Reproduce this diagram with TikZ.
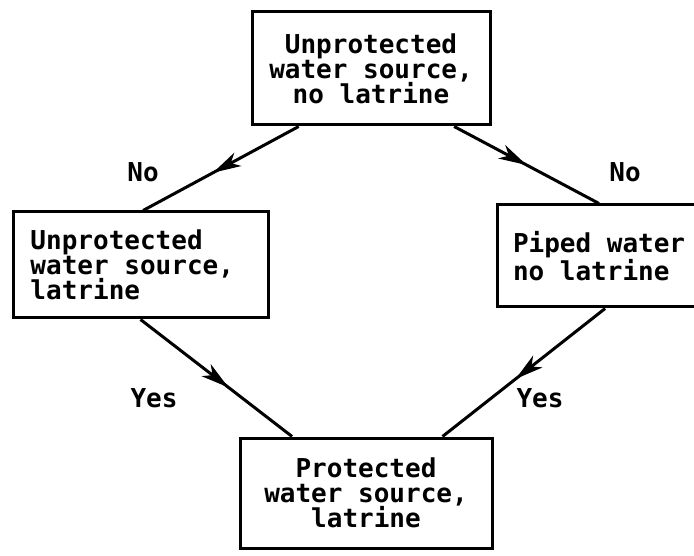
\documentclass[tikz,border=0pt]{standalone}
\usepackage{fontspec}
\newfontfamily\plotter{DejaVu Sans Mono}[WordSpace={1,0,0},BoldFont={DejaVu Sans Mono Bold}]
\usetikzlibrary{arrows.meta,decorations.markings,calc}
\begin{document}
\begin{tikzpicture}[x=1pt,y=-1pt,
  every node/.style={font=\plotter\bfseries\fontsize{26}{25}\selectfont,
    execute at begin node={\spaceskip=0.602em\relax\xspaceskip=0.602em\relax}},
  box/.style={draw,line width=3pt,inner sep=0pt},
  flow/.style={line width=3pt,postaction={decorate},
    decoration={markings,mark=at position #1 with {\arrow{Stealth[length=28pt,width=15pt,inset=8pt]}}}},
  lbl/.style={inner sep=0pt}]
\useasboundingbox (0,0) rectangle (694,556);
% the four states
\node[box,minimum width=238pt,minimum height=113pt,align=center] (top) at (371,68.5)
  {Unprotected\\water source,\\no latrine};
\node[box,minimum width=255pt,minimum height=106pt,text width=220pt,align=left] (left) at (140.5,265)
  {Unprotected\\water source,\\latrine};
\node[box,minimum width=200pt,minimum height=102pt,text width=180pt,align=left] (right) at (597,256)
  {\hspace*{6pt}Piped water\\\hspace*{6pt}no latrine};
\node[box,minimum width=252pt,minimum height=110pt,align=center] (bottom) at (366,493)
  {Protected\\water source,\\latrine};
% transitions
\draw[flow=0.55] ($(top.south west)!0.2!(top.south east)$) -- ($(left.north west)!0.51!(left.north east)$);
\draw[flow=0.50] ($(top.south west)!0.845!(top.south east)$) -- ($(right.north west)!0.51!(right.north east)$);
\draw[flow=0.58] ($(left.south west)!0.5!(left.south east)$) -- ($(bottom.north west)!0.21!(bottom.north east)$);
\draw[flow=0.55] ($(right.south west)!0.54!(right.south east)$) -- ($(bottom.north west)!0.80!(bottom.north east)$);
% answers
\node[lbl] (no1) at (143,172) {No};
\node[lbl] (no2) at (625,172) {No};
\node[lbl] (yes1) at (154,398) {Yes};
\node[lbl] (yes2) at (540,398) {Yes};
\end{tikzpicture}
\end{document}
